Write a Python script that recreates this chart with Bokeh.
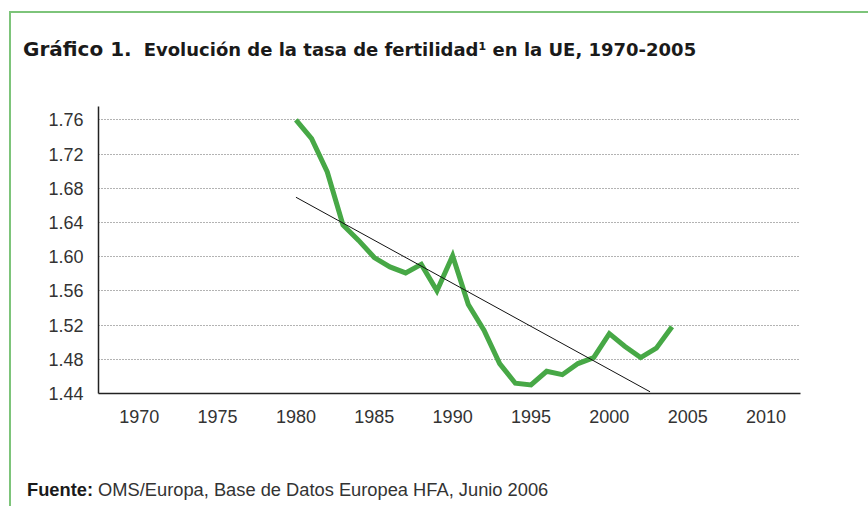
from bokeh.plotting import figure
from bokeh.models import FixedTicker, Range1d, Div
from bokeh.layouts import column
from bokeh.embed import file_html
from bokeh.resources import INLINE

# ---- data ----
years = [1980, 1981, 1982, 1983, 1984, 1985, 1986, 1987, 1988, 1989,
         1990, 1991, 1992, 1993, 1994, 1995, 1996, 1997, 1998, 1999,
         2000, 2001, 2002, 2003, 2004]
fertility = [1.760, 1.738, 1.699, 1.637, 1.619, 1.599, 1.588, 1.581, 1.591, 1.560,
             1.601, 1.544, 1.514, 1.475, 1.452, 1.450, 1.466, 1.462, 1.475, 1.482,
             1.510, 1.495, 1.482, 1.493, 1.518]
trend_years = [1980, 2002.6]
trend_values = [1.6695, 1.442]
x_ticks = [1970, 1975, 1980, 1985, 1990, 1995, 2000, 2005, 2010]
y_ticks = [1.44, 1.48, 1.52, 1.56, 1.60, 1.64, 1.68, 1.72, 1.76]

title_bold = "Gráfico 1."
title_rest = "Evolución de la tasa de fertilidad¹ en la UE, 1970-2005"
source_bold = "Fuente:"
source_rest = "OMS/Europa, Base de Datos Europea HFA, Junio 2006"

# ---- layout (page pixels) ----
OFF_X, OFF_Y = 11, 13            # content origin on the page (margin + border)
W = 857
TITLE_H = 80                     # page 13 .. 93
FIG_TOP = OFF_Y + TITLE_H        # 93
FIG_BOTTOM = 450
FIG_H = FIG_BOTTOM - FIG_TOP
FOOT_H = 506 - OFF_Y - TITLE_H - FIG_H
FL, FR, FT, FB = 98, 800, 106, 393   # frame edges on the page

p = figure(width=W, height=FIG_H, output_backend="svg", toolbar_location=None,
           x_range=Range1d(1967.4, 2012.2), y_range=Range1d(1.44, 1.7756),
           min_border_left=FL - OFF_X, min_border_right=W - (FR - OFF_X),
           min_border_top=FT - FIG_TOP, min_border_bottom=FIG_BOTTOM - FB,
           margin=0)
p.outline_line_color = None
p.background_fill_color = "white"
p.border_fill_color = "white"

for ax in (p.xaxis[0], p.yaxis[0]):
    ax.axis_line_color = "#222222"
    ax.axis_line_width = 1.5
    ax.major_tick_line_color = None
    ax.minor_tick_line_color = None
    ax.major_label_text_font = "Liberation Sans"
    ax.major_label_text_font_size = "18px"
    ax.major_label_text_color = "#333333"
    ax.major_label_standoff = 9
p.xaxis.ticker = FixedTicker(ticks=x_ticks)
p.yaxis.ticker = FixedTicker(ticks=y_ticks)
p.yaxis.major_label_overrides = {v: f"{v:.2f}" for v in y_ticks}
p.xaxis.major_label_standoff = 10

p.xgrid.grid_line_color = None
p.ygrid.grid_line_color = "#666666"
p.ygrid.grid_line_dash = "1 2"
p.ygrid.grid_line_width = 1

p.line(years, fertility, line_color="#47a846", line_width=5, line_join="miter")
p.line(trend_years, trend_values, line_color="#111111", line_width=1)

title_html = (
    '<div style="padding:25px 0 0 12px; line-height:22px; white-space:nowrap; color:#1a1a1a;">'
    f'<span style="font-family:\'DejaVu Sans\'; font-weight:bold; font-size:20px;">{title_bold}</span>'
    f'<span style="font-family:\'DejaVu Sans\'; font-weight:bold; font-size:18px; margin-left:12px;">{title_rest}</span>'
    '</div>'
)
foot_html = (
    '<div style="padding:30px 0 0 16px; line-height:20px; white-space:nowrap; '
    'font-family:\'Liberation Sans\'; font-size:18.3px; color:#333333;">'
    f'<span style="font-weight:bold; color:#1a1a1a;">{source_bold}</span> {source_rest}'
    '</div>'
)
title_div = Div(text=title_html, width=W, height=TITLE_H, margin=0)
foot_div = Div(text=foot_html, width=W, height=FOOT_H, margin=0)

layout = column(title_div, p, foot_div, spacing=0, margin=0)
layout.styles = {"margin-top": "11px", "margin-left": "9px",
                 "border-top": "2px solid #7dc47a", "border-left": "2px solid #7dc47a",
                 "background": "white"}

open("out.html", "w").write(file_html(layout, INLINE))
